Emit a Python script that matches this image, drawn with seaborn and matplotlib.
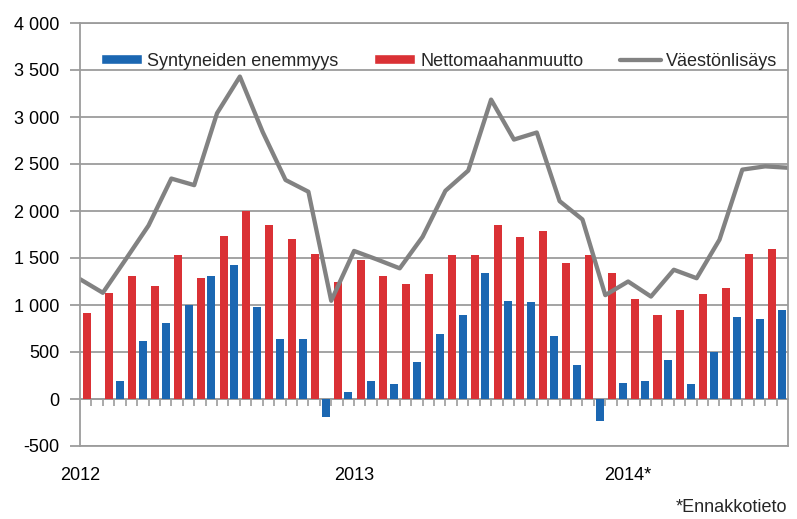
import numpy as np
import pandas as pd
import matplotlib.pyplot as plt
import seaborn as sns
from matplotlib.patches import Patch
from matplotlib.lines import Line2D
from matplotlib.ticker import FuncFormatter

# kuukaudet 1/2012 - 7/2014
months = pd.period_range("2012-01", "2014-07", freq="M")
nettomaahanmuutto = [910, 1130, 1305, 1200, 1530, 1290, 1735, 2005, 1855, 1705, 1545, 1250,
                     1480, 1305, 1220, 1325, 1530, 1530, 1855, 1720, 1790, 1445, 1530, 1340,
                     1065, 895, 945, 1120, 1185, 1545, 1600]
syntyneiden_enemmyys = [0, 195, 620, 810, 1005, 1305, 1425, 980, 635, 635, -195, 70,
                        195, 155, 395, 690, 895, 1340, 1045, 1030, 670, 360, -230, 170,
                        195, 415, 155, 500, 875, 855, 945]
# viiva kulkee kuukausien rajoilla (32 pistettä)
vaestonlisays = [1275, 1130, 1485, 1845, 2345, 2275, 3040, 3430, 2840, 2330, 2205, 1045,
                 1575, 1485, 1390, 1725, 2215, 2430, 3185, 2760, 2835, 2105, 1910, 1105,
                 1250, 1090, 1375, 1285, 1695, 2440, 2475, 2460]
year_labels = ["2012", "2013", "2014*"]
year_pos = [0, 12, 24]

sns.set_theme(style="white")
plt.rcParams["font.family"] = ["Liberation Sans", "DejaVu Sans"]

red = "#DA3135"
blue = "#1B67B2"
grey = "#828282"
gridc = "#9C9C9C"
fs = 13

n = len(months)
bars = pd.DataFrame({
    "pos": np.tile(np.arange(n) + 0.52, 2),
    "arvo": nettomaahanmuutto + syntyneiden_enemmyys,
    "sarja": ["Nettomaahanmuutto"] * n + ["Syntyneiden enemmyys"] * n,
})
line = pd.DataFrame({"pos": np.arange(len(vaestonlisays)), "arvo": vaestonlisays})

fig = plt.figure(figsize=(7.97, 5.19), dpi=100)
ax = fig.add_axes([80 / 797, 73 / 519, 708 / 797, 423 / 519])

sns.barplot(data=bars, x="pos", y="arvo", hue="sarja",
            hue_order=["Nettomaahanmuutto", "Syntyneiden enemmyys"],
            palette=[red, blue], native_scale=True, width=0.936, gap=0.25,
            errorbar=None, saturation=1, linewidth=0, legend=False, ax=ax)
sns.lineplot(data=line, x="pos", y="arvo", color=grey, linewidth=3.1,
             solid_joinstyle="round", ax=ax)

ax.set_xlim(0, 31)
ax.set_ylim(-500, 4000)
ax.set_yticks(range(-500, 4001, 500))
ax.yaxis.set_major_formatter(FuncFormatter(lambda v, p: f"{int(v):,}".replace(",", " ")))
ax.yaxis.grid(True, color=gridc, linewidth=1.3)
ax.set_axisbelow(True)
ax.set_xlabel("")
ax.set_ylabel("")

for s in ax.spines.values():
    s.set_color(gridc)
    s.set_linewidth(1.3)

ax.set_xticks(year_pos)
ax.set_xticklabels(year_labels)
ax.tick_params(axis="x", length=0, pad=15, labelsize=fs, labelcolor="black")
ax.tick_params(axis="y", length=7, width=1.3, color=gridc, pad=8, labelsize=fs,
               labelcolor="black", left=True)

# pienet jakoviivat nollatasolla
sec = ax.secondary_xaxis(500 / 4500)
sec.set_xticks(np.arange(0.5, 31, 0.5))
sec.tick_params(length=5, width=1.2, color=gridc, labelbottom=False)
sec.spines["bottom"].set_color(gridc)
sec.spines["bottom"].set_linewidth(1.3)

handles = [Patch(facecolor=blue), Patch(facecolor=red),
           Line2D([], [], color=grey, linewidth=3.1)]
labels = ["Syntyneiden enemmyys", "Nettomaahanmuutto", "Väestönlisäys"]
ax.legend(handles, labels, loc="center", bbox_to_anchor=(0.507, 0.91), ncol=3,
          frameon=False, handlelength=2.27, handleheight=0.5, handletextpad=0.28,
          columnspacing=2.0, fontsize=fs)

fig.text(787 / 797, 1 - 508 / 519, "*Ennakkotieto", ha="right", va="center", fontsize=fs)

fig.savefig("out.png", dpi=100)
